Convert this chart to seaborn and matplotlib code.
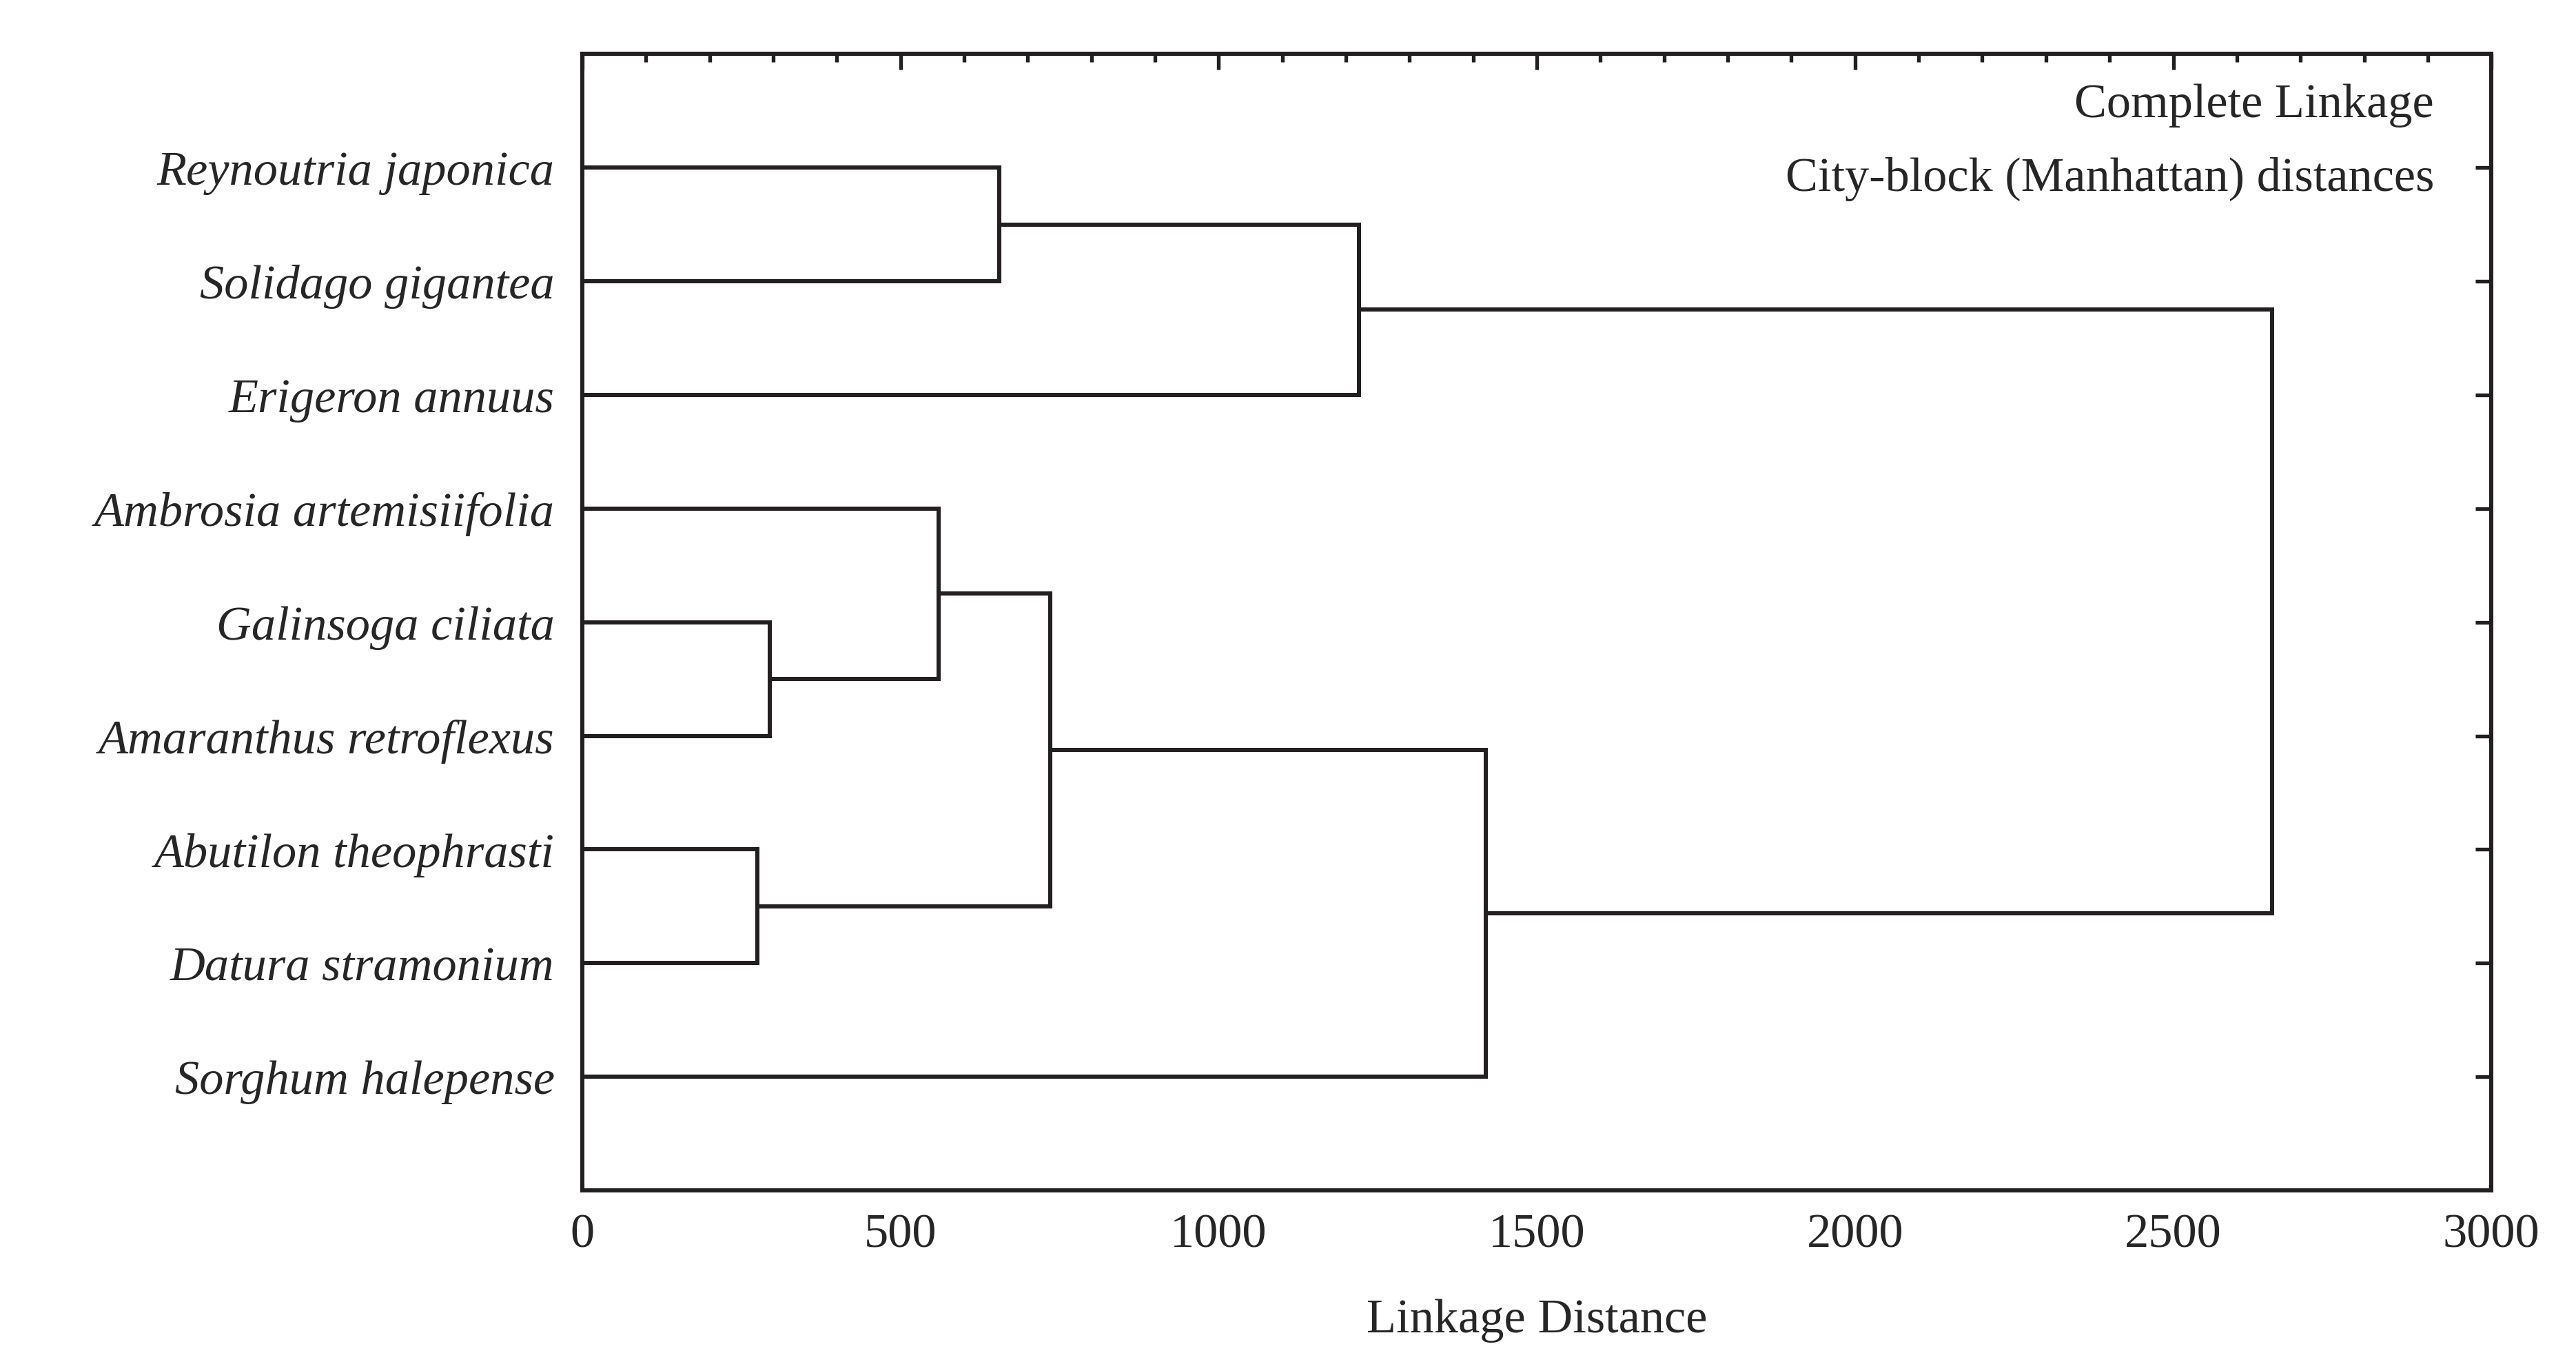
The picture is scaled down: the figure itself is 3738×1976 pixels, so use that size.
import numpy as np
import pandas as pd
import matplotlib
matplotlib.use("Agg")
import matplotlib.pyplot as plt
import seaborn as sns

# leaves, top to bottom
species = ["Reynoutria japonica", "Solidago gigantea", "Erigeron annuus",
           "Ambrosia artemisiifolia", "Galinsoga ciliata", "Amaranthus retroflexus",
           "Abutilon theophrasti", "Datura stramonium", "Sorghum halepense"]

# merges: (left node, right node, linkage distance); nodes 0-8 are leaves,
# merge k creates node 9 + k
merge_left = [0, 4, 6, 3, 9, 12, 14, 13]
merge_right = [1, 5, 7, 10, 2, 11, 8, 15]
merge_height = [655, 295, 275, 560, 1220, 735, 1420, 2655]

# build the step segments
pos = {i: i + 1 for i in range(len(species))}
hgt = {i: 0.0 for i in range(len(species))}
rows = []
seg = 0
for k, (a, b, h) in enumerate(zip(merge_left, merge_right, merge_height)):
    node = len(species) + k
    for x, y in [(hgt[a], pos[a]), (h, pos[a]), (h, pos[b]), (hgt[b], pos[b])]:
        rows.append({"seg": seg, "x": x, "y": y})
    seg += 1
    pos[node] = (pos[a] + pos[b]) / 2
    hgt[node] = h
df = pd.DataFrame(rows)

sns.set_style("white")
plt.rcParams["font.family"] = ["Liberation Serif", "DejaVu Serif"]

fig = plt.figure(figsize=(15.5, 8.195), dpi=241.2)
ax = fig.add_axes([0.226, 0.126, 0.741, 0.834])

for s, g in df.groupby("seg"):
    ax.plot(g["x"], g["y"], color="#231f20", lw=1.8, solid_joinstyle="miter")

fs = 21
ax.set_xlim(0, 3000)
ax.set_ylim(10, 0)
ax.set_yticks(range(1, 10))
ax.set_yticklabels(species, style="italic", fontsize=fs)
ax.set_xticks(np.arange(0, 3001, 500))
ax.set_xticks(np.arange(0, 3001, 100), minor=True)
ax.tick_params(axis="x", labelsize=fs, pad=10)
ax.tick_params(which="both", direction="in", top=True, right=True, left=False,
               color="#231f20", width=1.6)
ax.tick_params(which="major", length=7)
ax.tick_params(which="minor", length=3.5)
ax.tick_params(axis="y", pad=12)
for sp in ax.spines.values():
    sp.set_color("#231f20")
    sp.set_linewidth(1.8)
ax.set_xlabel("Linkage Distance", fontsize=fs, labelpad=18)

ax.text(0.97, 0.955, "Complete Linkage", transform=ax.transAxes, ha="right",
        va="center", fontsize=fs)
ax.text(0.97, 0.89, "City-block (Manhattan) distances", transform=ax.transAxes,
        ha="right", va="center", fontsize=fs)

fig.savefig("out.png", dpi=241.2, facecolor="white")
